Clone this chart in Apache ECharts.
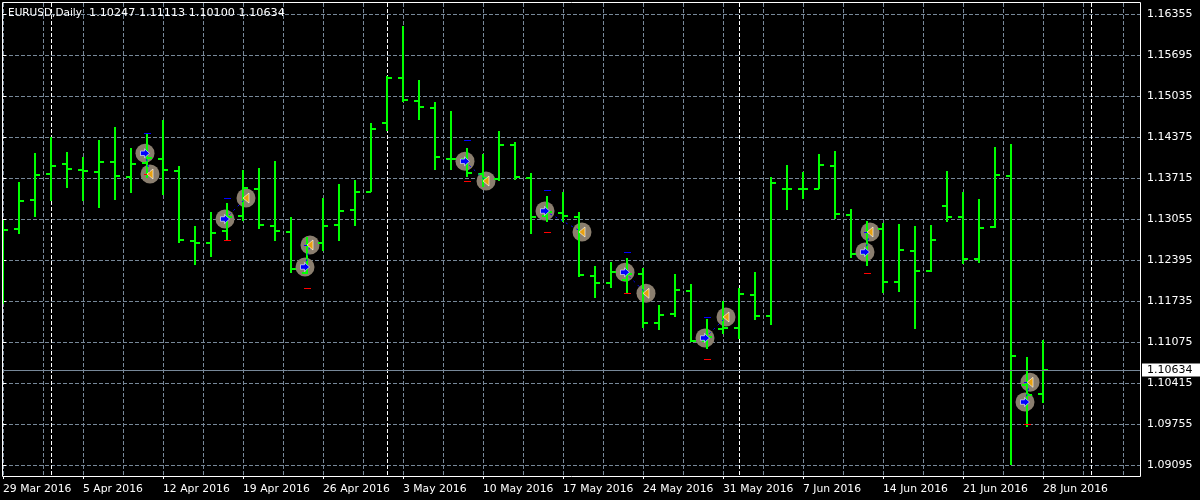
<!DOCTYPE html>
<html>
<head>
<meta charset="utf-8">
<style>html,body{margin:0;padding:0;background:#000}#c{width:1200px;height:500px}</style>
<script src="https://cdn.jsdelivr.net/npm/echarts@6/dist/echarts.min.js"></script>
</head>
<body>
<div id="c"></div>
<script>
const symbolName = 'EURUSD,Daily';
const headerValues = '1.10247 1.11113 1.10100 1.10634';
const dateTicks = [0,5,10,15,20,25,30,35,40,45,50,55,60,65];
const dateLabels = ['29 Mar 2016','5 Apr 2016','12 Apr 2016','19 Apr 2016','26 Apr 2016','3 May 2016','10 May 2016','17 May 2016','24 May 2016','31 May 2016','7 Jun 2016','14 Jun 2016','21 Jun 2016','28 Jun 2016'];
const monthStarts = [3,24,46,68];
const priceTicks = [1.09095,1.09755,1.10415,1.11075,1.11735,1.12395,1.13055,1.13715,1.14375,1.15035,1.15695,1.16355];
const lastPrice = 1.10634;

const opens = [1.12917,1.12901,1.13368,1.13791,1.13952,1.13855,1.13823,1.13984,1.13743,1.13963,1.14027,1.13834,1.12713,1.12676,1.12869,1.13110,1.13545,1.12950,1.12858,1.12194,1.12676,1.12966,1.13207,1.13496,1.14611,1.15335,1.14965,1.14853,1.14032,1.14027,1.13791,1.13710,1.14257,1.13726,1.13110,1.13164,1.13099,1.12145,1.12033,1.12081,1.12177,1.11389,1.11534,1.11904,1.11100,1.11293,1.11309,1.11840,1.11502,1.13545,1.13545,1.13545,1.13915,1.13127,1.12499,1.12901,1.12049,1.12547,1.12226,1.13271,1.13094,1.12419,1.12933,1.13754,1.10392,1.10247];
const highs = [1.13046,1.13657,1.14124,1.14376,1.14140,1.14059,1.14333,1.14542,1.14204,1.14450,1.14650,1.13915,1.12950,1.13175,1.13320,1.13850,1.13883,1.13990,1.13090,1.12777,1.13400,1.13625,1.13690,1.14606,1.15362,1.16167,1.15298,1.14944,1.14799,1.14204,1.14108,1.14478,1.14301,1.13802,1.13432,1.13496,1.13175,1.12306,1.12370,1.12435,1.12274,1.11679,1.12177,1.12017,1.11454,1.11743,1.11952,1.12210,1.13733,1.13926,1.13818,1.14108,1.14151,1.13218,1.13030,1.12993,1.12982,1.12950,1.12966,1.13834,1.13496,1.13384,1.14220,1.14269,1.10837,1.11113];
const lows = [1.11695,1.12826,1.13099,1.13340,1.13566,1.13352,1.13244,1.13373,1.13485,1.13722,1.13448,1.12681,1.12327,1.12456,1.12724,1.13035,1.12906,1.12697,1.12182,1.12182,1.12547,1.12708,1.12950,1.13496,1.14478,1.14944,1.14655,1.13850,1.13850,1.13738,1.13577,1.13673,1.13690,1.12821,1.13014,1.13014,1.12134,1.11796,1.11957,1.11867,1.11309,1.11277,1.11486,1.11084,1.10971,1.11212,1.11132,1.11437,1.11357,1.13207,1.13384,1.13540,1.13057,1.12435,1.12306,1.11872,1.11888,1.11293,1.12210,1.13014,1.12338,1.12354,1.12917,1.09105,1.09705,1.10100];
const closes = [1.12890,1.13352,1.13770,1.13920,1.13871,1.13839,1.13984,1.13759,1.13952,1.14048,1.13850,1.12724,1.12676,1.12837,1.13094,1.13566,1.12966,1.12874,1.12263,1.12628,1.12950,1.13196,1.13496,1.14515,1.15330,1.14981,1.14869,1.14064,1.14032,1.13807,1.13722,1.14257,1.13743,1.13094,1.13175,1.13115,1.12161,1.12033,1.12210,1.12177,1.11389,1.11518,1.11920,1.11100,1.11164,1.11309,1.11856,1.11502,1.13646,1.13545,1.13545,1.13931,1.13143,1.12499,1.12869,1.12049,1.12563,1.12226,1.12724,1.13094,1.12419,1.12917,1.13770,1.10858,1.10231,1.10634];

const entryX = [8.875,13.875,18.875,28.875,33.875,38.875,43.875,53.875,63.875];
const entryP = [1.14119,1.13062,1.12290,1.13990,1.13191,1.12205,1.11148,1.12531,1.10118];
const exitX = [9.1875,15.1875,19.1875,30.1875,36.1875,40.1875,45.1875,54.1875,64.1875];
const exitP = [1.13786,1.13400,1.12644,1.13673,1.12853,1.11867,1.11486,1.12853,1.10435];
const levelX = [9,14,19,29,34,39,44,54,64];
const takeProfit = [1.14450,1.13400,1.12644,1.14328,1.13524,1.12527,1.11481,1.12853,1.10435];
const stopLoss = [1.13786,1.12724,1.11947,1.13669,1.12848,1.11867,1.10805,1.12189,1.09769];

const GREEN = '#00ff00', GRID = '#778899';
const ohlc = opens.map((o,i)=>[i,o,highs[i],lows[i],closes[i]]);
const tradeLines = entryX.map((x,i)=>[x,entryP[i],exitX[i],exitP[i]]);
const entries = entryX.map((x,i)=>[x,entryP[i]]);
const exits = exitX.map((x,i)=>[x,exitP[i]]);
const levels = [];
levelX.forEach((x,i)=>{levels.push([x,takeProfit[i],'#0000ff']);levels.push([x,stopLoss[i],'#ff0000']);});

const ARROW = 'path://M0,2.5 L4,2.5 L4,0 L9,5 L4,10 L4,7.5 L0,7.5 Z';
const TRI = 'path://M0,5 L6,0 L6,10 Z';
const plain = {axisLine:{show:false},axisTick:{show:false},axisLabel:{show:false}};
const XMAX = 1137/16;

const chart = echarts.init(document.getElementById('c'),null,{renderer:'canvas'});
chart.setOption({
  animation:false,
  backgroundColor:'#000',
  title:{text:'{n|'+symbolName+'}{v|  '+headerValues+'}',left:8,top:8,padding:0,
    textStyle:{color:'#fff',fontFamily:'DejaVu Sans',fontSize:11,fontWeight:'normal',
      rich:{n:{color:'#fff',fontFamily:'DejaVu Sans',fontSize:10.5},v:{color:'#fff',fontFamily:'DejaVu Sans',fontSize:11.2}}}},
  graphic:[{type:'rect',silent:true,z:50,shape:{x:2.5,y:2.5,width:1138,height:474},style:{fill:null,stroke:'#fff',lineWidth:1}}],
  grid:{left:3,top:3,right:60,bottom:24,containLabel:false},
  xAxis:[
    Object.assign({type:'value',min:0,max:XMAX,interval:2.5,position:'bottom',
      splitLine:{show:true,lineStyle:{color:GRID,width:1,type:[4,2]}}},plain),
    {type:'value',min:0,max:XMAX,position:'bottom',splitLine:{show:false},axisLine:{show:false},
      axisTick:{show:true,length:3,inside:false,customValues:dateTicks,lineStyle:{color:'#fff'}},
      axisLabel:{show:true,customValues:dateTicks,align:'left',margin:8,color:'#fff',fontFamily:'DejaVu Sans',fontSize:10.8,
        hideOverlap:false,formatter:v=>dateLabels[dateTicks.indexOf(v)]||''}},
    {type:'value',min:0,max:XMAX,position:'bottom',axisLine:{show:false},axisLabel:{show:false},
      axisTick:{show:false,customValues:monthStarts},
      splitLine:{show:true,lineStyle:{color:'#fff',width:1,type:[4,2]}}}
  ],
  yAxis:[{type:'value',position:'right',min:1.089283,max:1.165368,scale:true,
    axisLine:{show:false},
    axisTick:{show:true,length:3,customValues:priceTicks,lineStyle:{color:'#fff'}},
    axisLabel:{show:true,customValues:priceTicks,margin:7,color:'#fff',fontFamily:'DejaVu Sans',fontSize:11,
      formatter:v=>v.toFixed(5)},
    splitLine:{show:true,lineStyle:{color:GRID,width:1,type:[4,2]}}}],
  series:[
    {type:'scatter',name:'entryDisc',z:2,silent:true,data:entries,symbol:'circle',symbolSize:19,
      itemStyle:{color:'#8a7e6e',opacity:1}},
    {type:'scatter',name:'exitDisc',z:2,silent:true,data:exits,symbol:'circle',symbolSize:19,
      itemStyle:{color:'#8a7e6e',opacity:1}},
    {type:'custom',name:'bars',z:3,silent:true,data:ohlc,clip:true,
      encode:{x:0,y:[1,2,3,4]},
      renderItem:(p,api)=>{
        const i=api.value(0);
        const h=api.coord([i,api.value(2)]), l=api.coord([i,api.value(3)]),
              o=api.coord([i,api.value(1)]), c=api.coord([i,api.value(4)]);
        const x=Math.round(h[0]), s={fill:GREEN};
        const cs=p.coordSys;
        return {type:'group',children:[
          {type:'rect',shape:{x:x-1,y:Math.round(h[1]),width:2,height:Math.max(1,Math.round(l[1]-h[1]))},style:s},
          {type:'rect',shape:{x:x-5,y:Math.round(o[1])-1,width:5,height:2},style:s},
          {type:'rect',shape:{x:x,y:Math.round(c[1])-1,width:5,height:2},style:s}
        ],clipPath:{type:'rect',shape:{x:cs.x,y:cs.y,width:cs.width,height:cs.height}}};
      }},
    {type:'custom',name:'tradeLines',z:4,silent:true,data:tradeLines,
      encode:{x:[0,2],y:[1,3]},
      renderItem:(p,api)=>{
        const a=api.coord([api.value(0),api.value(1)]), b=api.coord([api.value(2),api.value(3)]);
        return {type:'line',shape:{x1:a[0],y1:a[1],x2:b[0],y2:b[1]},
          style:{stroke:'#0000ff',lineWidth:1,lineDash:[2,4],fill:null}};
      }},
    {type:'custom',name:'levels',z:4,silent:true,data:levels,
      encode:{x:0,y:1},
      renderItem:(p,api)=>{
        const a=api.coord([api.value(0),api.value(1)]);
        return {type:'rect',shape:{x:Math.round(a[0])-3,y:Math.round(a[1]),width:7,height:1},
          style:{fill:levels[p.dataIndex][2]}};
      }},
    {type:'scatter',name:'entryArrow',z:5,silent:true,data:entries,symbol:ARROW,symbolSize:[9,9],
      itemStyle:{color:'#0000ff',borderColor:'#fff',borderWidth:0.6,opacity:1}},
    {type:'scatter',name:'exitArrow',z:5,silent:true,data:exits,symbol:TRI,symbolSize:[6,10],
      itemStyle:{color:'#e8a010',borderColor:'#fff',borderWidth:0.6,opacity:1}},
    {type:'line',name:'last',z:1,silent:true,data:[],
      markLine:{silent:true,symbol:'none',animation:false,precision:5,
        lineStyle:{color:GRID,width:1,type:'solid'},
        label:{show:true,position:'end',distance:2,formatter:()=>lastPrice.toFixed(5),
          color:'#000',backgroundColor:'#fff',padding:[1,8,1,5],fontFamily:'DejaVu Sans',fontSize:11},
        data:[{yAxis:lastPrice}]}}
  ]
});
</script>
</body>
</html>
